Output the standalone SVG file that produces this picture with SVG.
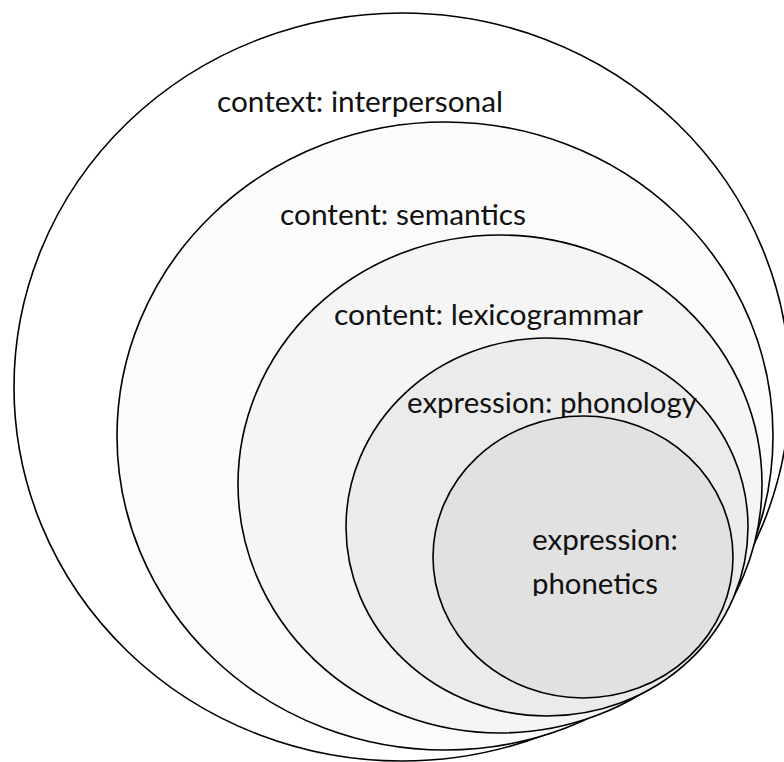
<svg xmlns="http://www.w3.org/2000/svg" width="784" height="762" viewBox="0 0 784 762">
<style>
.e{stroke:#000;stroke-width:1.6}
.t{font-family:Lato,"Open Sans","Liberation Sans",sans-serif;font-size:29px;fill:#111}
</style>
<defs>
<clipPath id="clipPh"><rect x="0" y="0" width="784" height="596"/></clipPath>
</defs>
<rect width="784" height="762" fill="#fff"/>
<g id="context">
<ellipse class="e" cx="402" cy="387" rx="388" ry="374" fill="#ffffff"/>
<text class="t" x="217" y="112" textLength="286" lengthAdjust="spacingAndGlyphs">context: interpersonal</text>
</g>
<g id="semantics">
<ellipse class="e" cx="445" cy="436" rx="328" ry="314" fill="#fbfbfb"/>
<text class="t" x="280" y="225" textLength="246" lengthAdjust="spacingAndGlyphs">content: semantics</text>
</g>
<g id="lexicogrammar">
<ellipse class="e" cx="500" cy="484" rx="262" ry="249" fill="#f5f5f5"/>
<text class="t" x="334" y="325" textLength="309" lengthAdjust="spacingAndGlyphs">content: lexicogrammar</text>
</g>
<g id="phonology">
<ellipse class="e" cx="547" cy="527" rx="201" ry="189" fill="#ebebeb"/>
<text class="t" x="407" y="413" textLength="290" lengthAdjust="spacingAndGlyphs">expression: phonology</text>
</g>
<g id="phonetics">
<ellipse class="e" cx="583" cy="557" rx="150" ry="141" fill="#e1e1e1"/>
<g clip-path="url(#clipPh)">
<text class="t" x="532" y="550" textLength="146" lengthAdjust="spacingAndGlyphs">expression:</text>
<text class="t" x="532" y="594" textLength="126" lengthAdjust="spacingAndGlyphs">phonetics</text>
</g>
</g>
<g id="connectors"/>
</svg>
